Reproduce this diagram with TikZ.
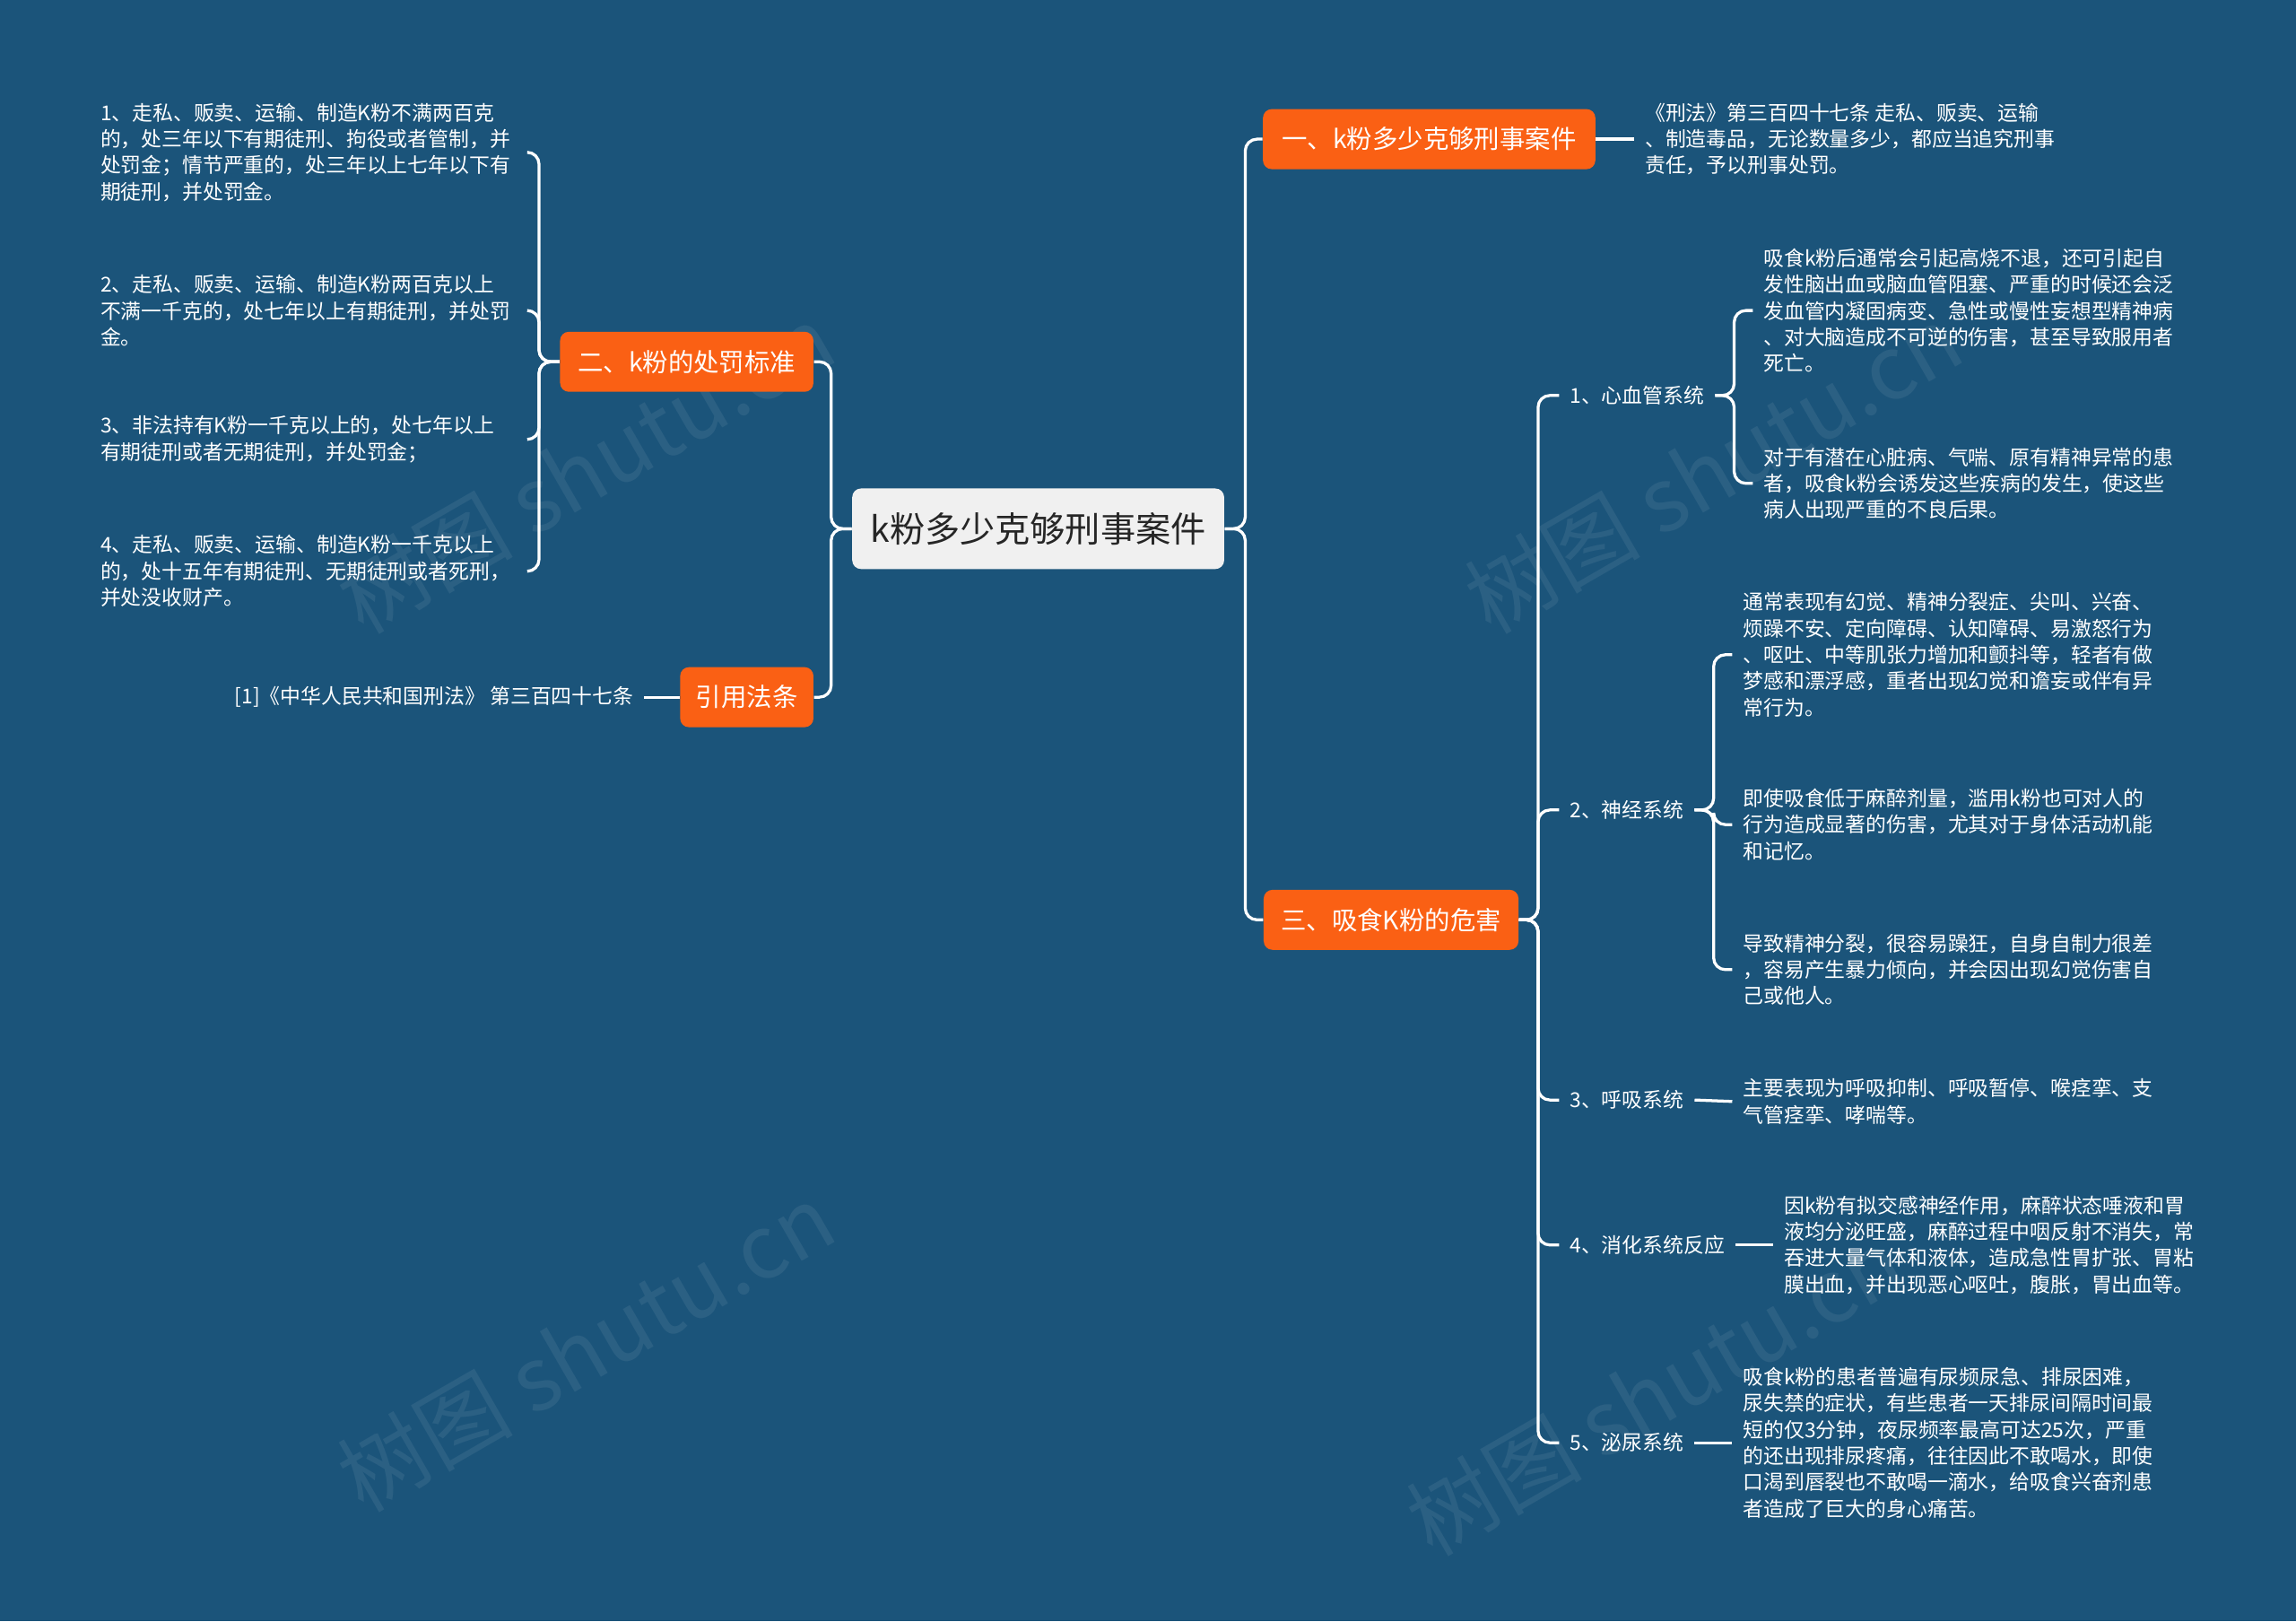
\documentclass[tikz,border=0pt]{standalone}
\usepackage{fontspec}
\setmainfont{Noto Sans CJK SC}
\definecolor{bg}{RGB}{27,84,122}
\definecolor{org}{RGB}{250,96,20}
\begin{document}
\begin{tikzpicture}[x=0.5pt,y=-0.5pt,
  conn/.style={draw=white,line width=1pt,rounded corners=4pt},
  cen/.style={fill=white!94!black,text=black!85,rounded corners=3pt,minimum width=127pt,minimum height=27.5pt,font=\fontsize{12}{14}\selectfont},
  obox/.style={fill=org,text=white,rounded corners=3pt,minimum height=20.5pt,inner xsep=5pt,font=\fontsize{8.7}{10}\selectfont},
  leafw/.style={anchor=west,text=white,align=left,inner xsep=3.5pt,inner ysep=1pt,font=\fontsize{7}{9}\selectfont},
  leafe/.style={anchor=east,text=white,align=left,inner xsep=3.5pt,inner ysep=1pt,font=\fontsize{7}{9}\selectfont},
  sub/.style={text=white,inner xsep=3.5pt,font=\fontsize{7}{9}\selectfont},
  wm/.style={text=white,opacity=0.07,rotate=30,font=\fontsize{30}{34}\selectfont}]
\fill[bg] (0,0) rectangle (1568,1107);
\useasboundingbox (0,0) rectangle (1568,1107);
\node[wm] at (400,320) {树图 shutu.cn};
\node[wm] at (400,920) {树图 shutu.cn};
\node[wm] at (1170,320) {树图 shutu.cn};
\node[wm] at (1130,950) {树图 shutu.cn};

\node[cen] (c) at (709,361) {k粉多少克够刑事案件};
\node[obox,minimum width=113.5pt] (a) at (976,95) {一、k粉多少克够刑事案件};
\node[obox,minimum width=87pt] (s3) at (950,628) {三、吸食K粉的危害};
\node[obox,minimum width=86.5pt] (b) at (469,247) {二、k粉的处罚标准};
\node[obox,minimum width=45.5pt] (d) at (510,476) {引用法条};

\draw[conn] (c.east) -- ++(14,0) |- (a.west);
\draw[conn] (c.east) -- ++(14,0) |- (s3.west);
\draw[conn] (c.west) -- ++(-14,0) |- (b.east);
\draw[conn] (c.west) -- ++(-14,0) |- (d.east);

\node[leafw] (a1) at (1116,95) {《刑法》第三百四十七条 走私、贩卖、运输\\、制造毒品，无论数量多少，都应当追究刑事\\责任，予以刑事处罚。};
\draw[conn] (a.east) -- (a1.west);

\node[leafe] (d1) at (440,476) {[1]《中华人民共和国刑法》 第三百四十七条};
\draw[conn] (d.west) -- (d1.east);

\node[leafe,text width=142pt] (b1) at (360,104) {1、走私、贩卖、运输、制造K粉不满两百克\\的，处三年以下有期徒刑、拘役或者管制，并\\处罚金；情节严重的，处三年以上七年以下有\\期徒刑，并处罚金。};
\node[leafe,text width=142pt] (b2) at (360,212) {2、走私、贩卖、运输、制造K粉两百克以上\\不满一千克的，处七年以上有期徒刑，并处罚\\金。};
\node[leafe,text width=142pt] (b3) at (360,300) {3、非法持有K粉一千克以上的，处七年以上\\有期徒刑或者无期徒刑，并处罚金；};
\node[leafe,text width=142pt] (b4) at (360,390) {4、走私、贩卖、运输、制造K粉一千克以上\\的，处十五年有期徒刑、无期徒刑或者死刑，\\并处没收财产。};
\foreach \n in {b1,b2,b3,b4} \draw[conn] (b.west) -- ++(-14,0) |- (\n.east);

\node[sub] (g1) at (1118,270) {1、心血管系统};
\node[sub] (g2) at (1111,553) {2、神经系统};
\node[sub] (g3) at (1111,751) {3、呼吸系统};
\node[sub] (g4) at (1125,850) {4、消化系统反应};
\node[sub] (g5) at (1111,985) {5、泌尿系统};
\foreach \n in {g1,g2,g3,g4,g5} \draw[conn] (s3.east) -- ++(13,0) |- (\n.west);

\node[leafw] (l11) at (1197,212) {吸食k粉后通常会引起高烧不退，还可引起自\\发性脑出血或脑血管阻塞、严重的时候还会泛\\发血管内凝固病变、急性或慢性妄想型精神病\\、对大脑造成不可逆的伤害，甚至导致服用者\\死亡。};
\node[leafw] (l12) at (1197,330) {对于有潜在心脏病、气喘、原有精神异常的患\\者，吸食k粉会诱发这些疾病的发生，使这些\\病人出现严重的不良后果。};
\foreach \n in {l11,l12} \draw[conn] (g1.east) -- ++(13,0) |- (\n.west);

\node[leafw] (l21) at (1183,447) {通常表现有幻觉、精神分裂症、尖叫、兴奋、\\烦躁不安、定向障碍、认知障碍、易激怒行为\\、呕吐、中等肌张力增加和颤抖等，轻者有做\\梦感和漂浮感，重者出现幻觉和谵妄或伴有异\\常行为。};
\node[leafw] (l22) at (1183,563) {即使吸食低于麻醉剂量，滥用k粉也可对人的\\行为造成显著的伤害，尤其对于身体活动机能\\和记忆。};
\node[leafw] (l23) at (1183,662) {导致精神分裂，很容易躁狂，自身自制力很差\\，容易产生暴力倾向，并会因出现幻觉伤害自\\己或他人。};
\foreach \n in {l21,l22,l23} \draw[conn] (g2.east) -- ++(13,0) |- (\n.west);

\node[leafw] (l3) at (1183,752) {主要表现为呼吸抑制、呼吸暂停、喉痉挛、支\\气管痉挛、哮喘等。};
\draw[conn] (g3.east) -- (l3.west);
\node[leafw] (l4) at (1211,850) {因k粉有拟交感神经作用，麻醉状态唾液和胃\\液均分泌旺盛，麻醉过程中咽反射不消失，常\\吞进大量气体和液体，造成急性胃扩张、胃粘\\膜出血，并出现恶心呕吐，腹胀，胃出血等。};
\draw[conn] (g4.east) -- (l4.west);
\node[leafw] (l5) at (1183,985) {吸食k粉的患者普遍有尿频尿急、排尿困难，\\尿失禁的症状，有些患者一天排尿间隔时间最\\短的仅3分钟，夜尿频率最高可达25次，严重\\的还出现排尿疼痛，往往因此不敢喝水，即使\\口渴到唇裂也不敢喝一滴水，给吸食兴奋剂患\\者造成了巨大的身心痛苦。};
\draw[conn] (g5.east) -- (l5.west);
\end{tikzpicture}
\end{document}
